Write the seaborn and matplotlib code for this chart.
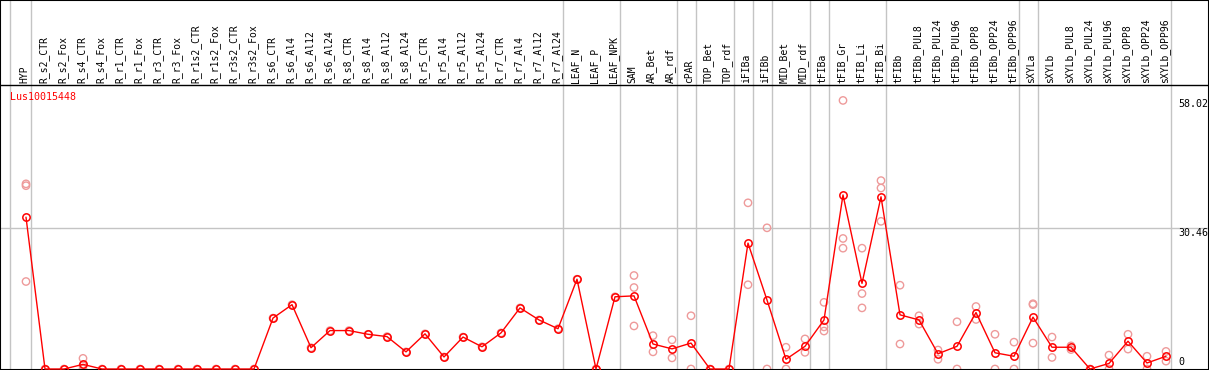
import numpy as np
import pandas as pd
import matplotlib
matplotlib.use("Agg")
import matplotlib.pyplot as plt
import seaborn as sns

categories = ["HYP", "R_s2_CTR", "R_s2_Fox", "R_s4_CTR", "R_s4_Fox", "R_r1_CTR", "R_r1_Fox",
              "R_r3_CTR", "R_r3_Fox", "R_r1s2_CTR", "R_r1s2_Fox", "R_r3s2_CTR", "R_r3s2_Fox",
              "R_s6_CTR", "R_s6_Al4", "R_s6_Al12", "R_s6_Al24", "R_s8_CTR", "R_s8_Al4",
              "R_s8_Al12", "R_s8_Al24", "R_r5_CTR", "R_r5_Al4", "R_r5_Al12", "R_r5_Al24",
              "R_r7_CTR", "R_r7_Al4", "R_r7_Al12", "R_r7_Al24", "LEAF_N", "LEAF_P", "LEAF_NPK",
              "SAM", "AR_Bet", "AR_rdf", "cPAR", "TOP_Bet", "TOP_rdf", "iFIBa", "iFIBb",
              "MID_Bet", "MID_rdf", "tFIBa", "tFIB_Gr", "tFIB_Li", "tFIB_Bi", "tFIBb",
              "tFIBb_PUL8", "tFIBb_PUL24", "tFIBb_PUL96", "tFIBb_OPP8", "tFIBb_OPP24",
              "tFIBb_OPP96", "sXYLa", "sXYLb", "sXYLb_PUL8", "sXYLb_PUL24", "sXYLb_PUL96",
              "sXYLb_OPP8", "sXYLb_OPP24", "sXYLb_OPP96"]

mean_values = [32.8, 0, 0, 1.0, 0, 0, 0, 0, 0, 0, 0, 0, 0,
               11.0, 13.9, 4.6, 8.3, 8.3, 7.5, 7.0, 3.7, 7.6, 2.6, 6.9, 4.8,
               7.8, 13.2, 10.6, 8.7, 19.4, 0, 15.6, 15.8, 5.4, 4.35, 5.6, 0, 0,
               27.2, 14.9, 2.1, 4.9, 10.6, 37.6, 18.5, 37.2, 11.7,
               10.6, 3.3, 4.9, 12.2, 3.5, 2.75, 11.2, 4.7, 4.7, 0, 1.2, 6.0, 1.3, 2.75]

replicate_values = [[39.6, 40.0, 18.9], [0], [0], [2.3, 0.7, 0], [0], [0], [0], [0], [0], [0],
                    [0], [0], [0], [11.0], [13.9], [4.6], [8.3], [8.3], [7.5], [7.0], [3.7],
                    [7.6], [2.6], [6.9], [4.8], [7.8], [13.2], [10.6], [8.7], [19.4], [0],
                    [15.6], [20.2, 17.6, 9.3], [7.2, 3.7], [6.3, 2.4], [11.5, 0], [0], [0],
                    [35.9, 18.2], [30.5, 0], [4.7, 0], [6.5, 3.6], [14.4, 9.1, 8.2],
                    [58.02, 28.2, 26.1], [26.1, 16.3, 13.2], [40.7, 39.1, 31.9], [18.1, 5.4],
                    [11.5, 9.7], [4.1, 2.1], [10.2, 0], [13.5, 10.7], [7.5, 0], [5.8, 0],
                    [14.1, 13.9, 5.6], [6.9, 2.5], [5.0, 4.2], [0], [3.0, 0], [7.5, 4.3],
                    [2.75, 0], [3.8, 1.7]]

group_breaks = [0, 28, 31, 34, 35, 37, 38, 39, 41, 42, 45, 52, 53, 60]
y_tick_values = [0, 30.46, 58.02]
y_tick_labels = ["0", "30.46", "58.02"]
gene_name = "Lus10015448"

sns.set_theme(style="white")
plt.rcParams["font.family"] = ["DejaVu Sans Mono", "DejaVu Sans"]

W, H, DPI = 1209, 370, 100
fig = plt.figure(figsize=(W / DPI, H / DPI), dpi=DPI)
ax = fig.add_axes([0, 0, 1, 1])

# pixel geometry -> data limits
x0_px, dx_px = 26.0, 19.0
y0_px, dy_px = 369.0, 141.0 / 30.46
ax.set_xlim((0 - x0_px) / dx_px, (W - x0_px) / dx_px)
ax.set_ylim((y0_px - H) / dy_px, y0_px / dy_px)
header_y = (y0_px - 85) / dy_px

idx = np.arange(len(categories))
df_mean = pd.DataFrame({"x": idx, "value": mean_values, "cat": categories})
rx, ry = [], []
for i, reps in enumerate(replicate_values):
    for v in reps:
        rx.append(i)
        ry.append(v)
df_rep = pd.DataFrame({"x": rx, "value": ry})

grid_c = "#C4C4C4"
for k in group_breaks:
    ax.axvline(k + 0.24, color=grid_c, lw=1, zorder=0)
ax.axvline(-0.84, color=grid_c, lw=1, zorder=0)
ax.axhline(y_tick_values[1], color=grid_c, lw=1, zorder=0)
ax.axhline(header_y, color="black", lw=1.0, zorder=1)

sns.scatterplot(data=df_rep, x="x", y="value", ax=ax, marker="o", s=28,
                facecolors="none", edgecolor="#EE9A9A", linewidth=1.0, zorder=2)
sns.lineplot(data=df_mean, x="x", y="value", ax=ax, color="red", lw=1.0,
             marker="o", markersize=5.3, markerfacecolor="none", markeredgecolor="red",
             markeredgewidth=1.1, zorder=3)

for i, c in enumerate(categories):
    ax.text(i - 0.08, header_y + 0.45, c, rotation=90, ha="center", va="bottom",
            fontsize=7.0, color="black")

ax.text((10 - x0_px) / dx_px, (y0_px - 97) / dy_px, gene_name, color="red",
        fontsize=7.2, ha="left", va="center")

tx = (1178 - x0_px) / dx_px
ax.text(tx, y_tick_values[2] + 0.2, y_tick_labels[2], fontsize=7.2, ha="left", va="top", color="black")
ax.text(tx, y_tick_values[1], y_tick_labels[1], fontsize=7.2, ha="left", va="top", color="black")
ax.text(tx, y_tick_values[0] + 0.5, y_tick_labels[0], fontsize=7.2, ha="left", va="bottom", color="black")

ax.set_xticks([])
ax.set_yticks([])
ax.set_xlabel("")
ax.set_ylabel("")
for s in ax.spines.values():
    s.set_visible(True)
    s.set_color("black")
    s.set_linewidth(1.5)

fig.savefig("out.png", dpi=DPI)
